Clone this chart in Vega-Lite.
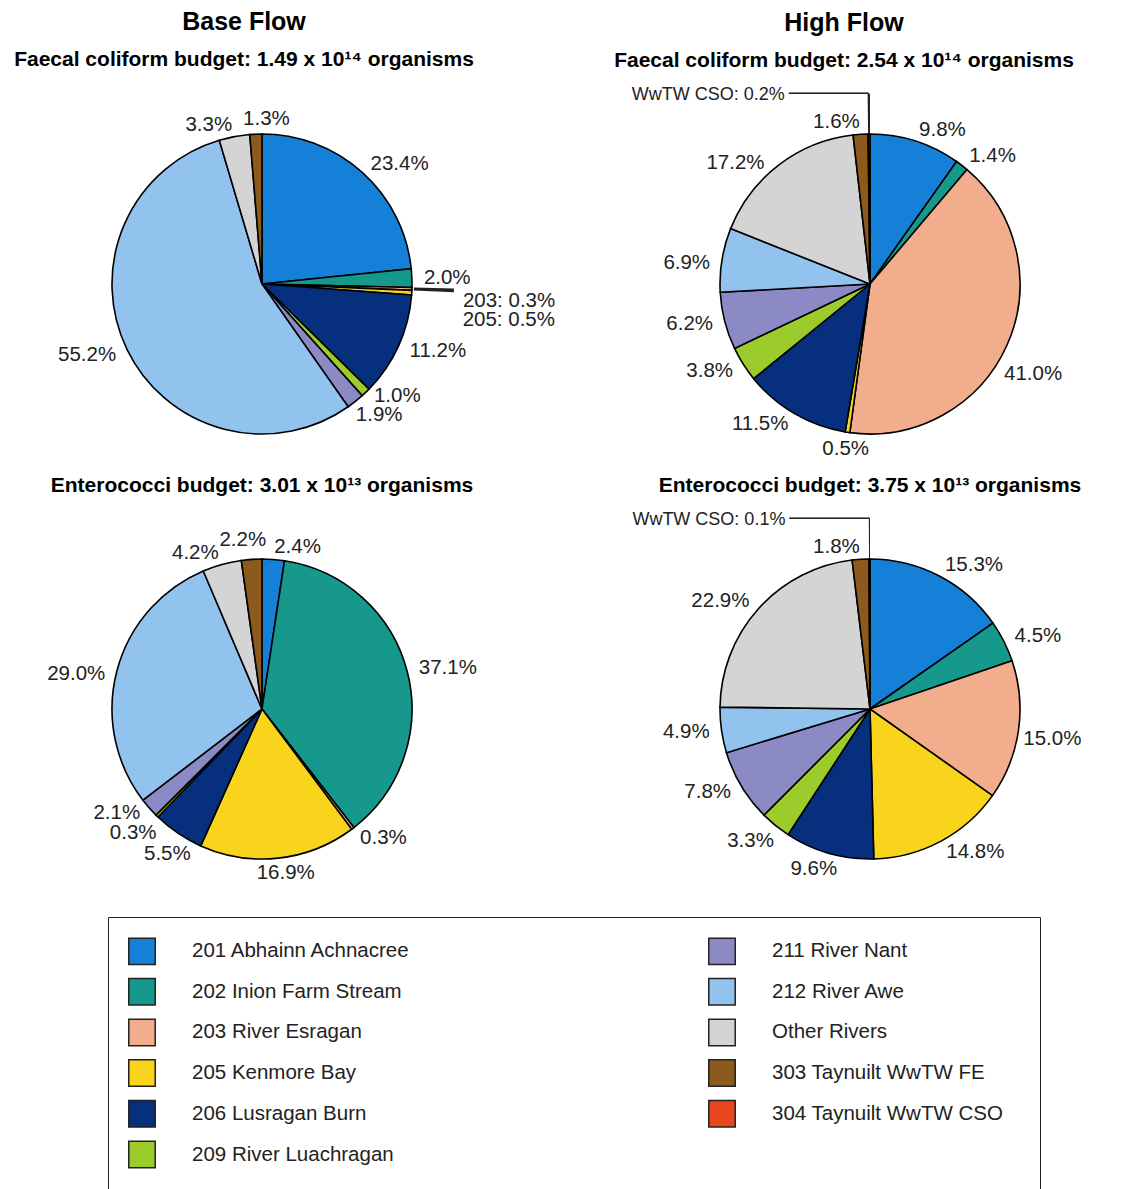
{
  "$schema": "https://vega.github.io/schema/vega-lite/v6.json",
  "autosize": {"type": "pad"},
  "padding": {"left": 0, "top": 10, "right": 0, "bottom": 0},
  "background": "white",
  "config": {
    "font": "Liberation Sans",
    "view": {"stroke": null},
    "title": {"font": "Liberation Sans", "fontWeight": "bold", "color": "black", "fontSize": 25, "subtitleFont": "Liberation Sans", "subtitleFontWeight": "bold", "subtitleColor": "black", "subtitleFontSize": 21, "subtitlePadding": 14, "anchor": "middle", "offset": 25},
    "text": {"font": "Liberation Sans", "fontSize": 20.5, "color": "#222", "baseline": "middle"},
    "legend": {"labelFont": "Liberation Sans"}
  },
  "datasets": {
    "pies": [
      {"panel": "BF_FC", "code": "201", "name": "201 Abhainn Achnacree", "ord": 1, "share": 0.234},
      {"panel": "BF_FC", "code": "202", "name": "202 Inion Farm Stream", "ord": 2, "share": 0.020},
      {"panel": "BF_FC", "code": "203", "name": "203 River Esragan", "ord": 3, "share": 0.003, "note": "203: 0.3%"},
      {"panel": "BF_FC", "code": "205", "name": "205 Kenmore Bay", "ord": 4, "share": 0.005, "note": "205: 0.5%"},
      {"panel": "BF_FC", "code": "206", "name": "206 Lusragan Burn", "ord": 5, "share": 0.112},
      {"panel": "BF_FC", "code": "209", "name": "209 River Luachragan", "ord": 6, "share": 0.010},
      {"panel": "BF_FC", "code": "211", "name": "211 River Nant", "ord": 7, "share": 0.019},
      {"panel": "BF_FC", "code": "212", "name": "212 River Awe", "ord": 8, "share": 0.552},
      {"panel": "BF_FC", "code": "oth", "name": "Other Rivers", "ord": 9, "share": 0.033},
      {"panel": "BF_FC", "code": "303", "name": "303 Taynuilt WwTW FE", "ord": 10, "share": 0.013},

      {"panel": "HF_FC", "code": "201", "name": "201 Abhainn Achnacree", "ord": 1, "share": 0.098},
      {"panel": "HF_FC", "code": "202", "name": "202 Inion Farm Stream", "ord": 2, "share": 0.014},
      {"panel": "HF_FC", "code": "203", "name": "203 River Esragan", "ord": 3, "share": 0.410},
      {"panel": "HF_FC", "code": "205", "name": "205 Kenmore Bay", "ord": 4, "share": 0.005},
      {"panel": "HF_FC", "code": "206", "name": "206 Lusragan Burn", "ord": 5, "share": 0.115},
      {"panel": "HF_FC", "code": "209", "name": "209 River Luachragan", "ord": 6, "share": 0.038},
      {"panel": "HF_FC", "code": "211", "name": "211 River Nant", "ord": 7, "share": 0.062},
      {"panel": "HF_FC", "code": "212", "name": "212 River Awe", "ord": 8, "share": 0.069},
      {"panel": "HF_FC", "code": "oth", "name": "Other Rivers", "ord": 9, "share": 0.172},
      {"panel": "HF_FC", "code": "303", "name": "303 Taynuilt WwTW FE", "ord": 10, "share": 0.016},
      {"panel": "HF_FC", "code": "304", "name": "304 Taynuilt WwTW CSO", "ord": 11, "share": 0.002, "note": "WwTW CSO: 0.2%"},

      {"panel": "BF_E", "code": "201", "name": "201 Abhainn Achnacree", "ord": 1, "share": 0.024},
      {"panel": "BF_E", "code": "202", "name": "202 Inion Farm Stream", "ord": 2, "share": 0.371},
      {"panel": "BF_E", "code": "203", "name": "203 River Esragan", "ord": 3, "share": 0.003},
      {"panel": "BF_E", "code": "205", "name": "205 Kenmore Bay", "ord": 4, "share": 0.169},
      {"panel": "BF_E", "code": "206", "name": "206 Lusragan Burn", "ord": 5, "share": 0.055},
      {"panel": "BF_E", "code": "209", "name": "209 River Luachragan", "ord": 6, "share": 0.003},
      {"panel": "BF_E", "code": "211", "name": "211 River Nant", "ord": 7, "share": 0.021},
      {"panel": "BF_E", "code": "212", "name": "212 River Awe", "ord": 8, "share": 0.290},
      {"panel": "BF_E", "code": "oth", "name": "Other Rivers", "ord": 9, "share": 0.042},
      {"panel": "BF_E", "code": "303", "name": "303 Taynuilt WwTW FE", "ord": 10, "share": 0.022},

      {"panel": "HF_E", "code": "201", "name": "201 Abhainn Achnacree", "ord": 1, "share": 0.153},
      {"panel": "HF_E", "code": "202", "name": "202 Inion Farm Stream", "ord": 2, "share": 0.045},
      {"panel": "HF_E", "code": "203", "name": "203 River Esragan", "ord": 3, "share": 0.150},
      {"panel": "HF_E", "code": "205", "name": "205 Kenmore Bay", "ord": 4, "share": 0.148},
      {"panel": "HF_E", "code": "206", "name": "206 Lusragan Burn", "ord": 5, "share": 0.096},
      {"panel": "HF_E", "code": "209", "name": "209 River Luachragan", "ord": 6, "share": 0.033},
      {"panel": "HF_E", "code": "211", "name": "211 River Nant", "ord": 7, "share": 0.078},
      {"panel": "HF_E", "code": "212", "name": "212 River Awe", "ord": 8, "share": 0.049},
      {"panel": "HF_E", "code": "oth", "name": "Other Rivers", "ord": 9, "share": 0.229},
      {"panel": "HF_E", "code": "303", "name": "303 Taynuilt WwTW FE", "ord": 10, "share": 0.018},
      {"panel": "HF_E", "code": "304", "name": "304 Taynuilt WwTW CSO", "ord": 11, "share": 0.001, "note": "WwTW CSO: 0.1%"}
    ]
  },
  "resolve": {"scale": {"color": "shared"}, "legend": {"color": "shared"}},
  "bounds": "flush",
  "columns": 2,
  "spacing": {"row": 49, "column": 88},
  "concat": [
    {
      "width": 524, "height": 376,
      "title": {"text": "Base Flow", "subtitle": "Faecal coliform budget:  1.49 x 10¹⁴ organisms", "dx": -18, "offset": 14},
      "data": {"name": "pies"},
      "transform": [{"filter": "datum.panel == 'BF_FC'"}],
      "encoding": {
        "theta": {"field": "share", "type": "quantitative", "stack": true},
        "order": {"field": "ord", "type": "quantitative"}
      },
      "layer": [
        {"mark": {"type": "arc", "outerRadius": 150, "stroke": "black", "strokeWidth": 1.6},
         "encoding": {"color": {"field": "name", "type": "nominal",
           "scale": {"domain": ["201 Abhainn Achnacree", "202 Inion Farm Stream", "203 River Esragan", "205 Kenmore Bay", "206 Lusragan Burn", "209 River Luachragan", "211 River Nant", "212 River Awe", "Other Rivers", "303 Taynuilt WwTW FE", "304 Taynuilt WwTW CSO"],
                     "range": ["#1580d8", "#17988c", "#f2ae8c", "#f8d51c", "#06307e", "#9ccb2c", "#8c8ac4", "#92c3ef", "#d4d4d4", "#8b5a1c", "#e8461e"]},
           "legend": {"title": " ", "titleOrient": "right", "titlePadding": 17, "orient": "none", "legendX": 108, "legendY": 821, "columns": 2, "gridAlign": "all", "symbolType": "square", "symbolSize": 700, "symbolStrokeColor": "#222", "symbolStrokeWidth": 1.5, "symbolOpacity": 1, "labelFontSize": 20.5, "labelColor": "#222", "labelOffset": 36, "labelLimit": 400, "rowPadding": 6.7, "columnPadding": 281, "padding": 20, "strokeColor": "#222"}}}},
        {"mark": {"type": "arc", "innerRadius": 152, "outerRadius": 192, "fill": "#222"},
         "encoding": {"fillOpacity": {"condition": {"test": "datum.code == '203'", "value": 1}, "value": 0}}},
        {"mark": {"type": "text", "radius": 162, "align": "left"},
         "encoding": {"text": {"condition": {"test": "indexof(['201','202','206'], datum.code) >= 0", "field": "share", "type": "quantitative", "format": ".1%"}, "value": ""}}},
        {"mark": {"type": "text", "radius": 162, "align": "left", "dy": -5},
         "encoding": {"text": {"condition": {"test": "datum.code == '209'", "field": "share", "type": "quantitative", "format": ".1%"}, "value": ""}}},
        {"mark": {"type": "text", "radius": 162, "align": "left", "dx": -7, "dy": 4},
         "encoding": {"text": {"condition": {"test": "datum.code == '211'", "field": "share", "type": "quantitative", "format": ".1%"}, "value": ""}}},
        {"mark": {"type": "text", "radius": 162, "align": "right"},
         "encoding": {"text": {"condition": {"test": "indexof(['212','oth'], datum.code) >= 0", "field": "share", "type": "quantitative", "format": ".1%"}, "value": ""}}},
        {"mark": {"type": "text", "radius": 162, "align": "center", "dx": 11, "dy": -3},
         "encoding": {"text": {"condition": {"test": "datum.code == '303'", "field": "share", "type": "quantitative", "format": ".1%"}, "value": ""}}},
        {"mark": {"type": "text", "radius": 200, "align": "left", "dx": 1, "dy": 10},
         "encoding": {"text": {"condition": {"test": "datum.code == '203'", "field": "note"}, "value": ""}}},
        {"mark": {"type": "text", "radius": 200, "align": "left", "dx": 1, "dy": 24},
         "encoding": {"text": {"condition": {"test": "datum.code == '205'", "field": "note"}, "value": ""}}}
      ]
    },
    {
      "width": 516, "height": 376,
      "title": {"text": "High Flow", "subtitle": "Faecal coliform budget:  2.54 x 10¹⁴ organisms", "dx": -26, "offset": 14},
      "data": {"name": "pies"},
      "transform": [{"filter": "datum.panel == 'HF_FC'"}],
      "encoding": {
        "theta": {"field": "share", "type": "quantitative", "stack": true},
        "order": {"field": "ord", "type": "quantitative"}
      },
      "layer": [
        {"mark": {"type": "arc", "outerRadius": 150, "stroke": "black", "strokeWidth": 1.6},
         "encoding": {"color": {"field": "name", "type": "nominal",
           "scale": {"domain": ["201 Abhainn Achnacree", "202 Inion Farm Stream", "203 River Esragan", "205 Kenmore Bay", "206 Lusragan Burn", "209 River Luachragan", "211 River Nant", "212 River Awe", "Other Rivers", "303 Taynuilt WwTW FE", "304 Taynuilt WwTW CSO"],
                     "range": ["#1580d8", "#17988c", "#f2ae8c", "#f8d51c", "#06307e", "#9ccb2c", "#8c8ac4", "#92c3ef", "#d4d4d4", "#8b5a1c", "#e8461e"]},
           "legend": {"title": " ", "titleOrient": "right", "titlePadding": 17, "orient": "none", "legendX": 108, "legendY": 821, "columns": 2, "gridAlign": "all", "symbolType": "square", "symbolSize": 700, "symbolStrokeColor": "#222", "symbolStrokeWidth": 1.5, "symbolOpacity": 1, "labelFontSize": 20.5, "labelColor": "#222", "labelOffset": 36, "labelLimit": 400, "rowPadding": 6.7, "columnPadding": 281, "padding": 20, "strokeColor": "#222"}}}},
        {"mark": {"type": "arc", "innerRadius": 151, "outerRadius": 190, "fill": "#222"},
         "encoding": {"fillOpacity": {"condition": {"test": "datum.code == '304'", "value": 1}, "value": 0}}},
        {"mark": {"type": "text", "radius": 190, "align": "right", "font": "DejaVu Sans", "fontSize": 19},
         "encoding": {"text": {"condition": {"test": "datum.code == '304'", "value": "───────"}, "value": ""}}},
        {"mark": {"type": "text", "radius": 190, "align": "right", "dx": -84, "dy": 1, "fontSize": 18},
         "encoding": {"text": {"condition": {"test": "datum.code == '304'", "field": "note"}, "value": ""}}},
        {"mark": {"type": "text", "radius": 162, "align": "left"},
         "encoding": {"text": {"condition": {"test": "indexof(['201','202'], datum.code) >= 0", "field": "share", "type": "quantitative", "format": ".1%"}, "value": ""}}},
        {"mark": {"type": "text", "radius": 162, "align": "right"},
         "encoding": {"text": {"condition": {"test": "indexof(['206','209','211','303'], datum.code) >= 0", "field": "share", "type": "quantitative", "format": ".1%"}, "value": ""}}},
        {"mark": {"type": "text", "radius": 162, "align": "right", "dy": 5},
         "encoding": {"text": {"condition": {"test": "datum.code == '212'", "field": "share", "type": "quantitative", "format": ".1%"}, "value": ""}}},
        {"mark": {"type": "text", "radius": 162, "align": "center", "dy": 5},
         "encoding": {"text": {"condition": {"test": "datum.code == '205'", "field": "share", "type": "quantitative", "format": ".1%"}, "value": ""}}},
        {"mark": {"type": "text", "radius": 162, "align": "left", "dx": -14, "dy": 24},
         "encoding": {"text": {"condition": {"test": "datum.code == '203'", "field": "share", "type": "quantitative", "format": ".1%"}, "value": ""}}},
        {"mark": {"type": "text", "radius": 162, "align": "right", "dx": -7, "dy": 8},
         "encoding": {"text": {"condition": {"test": "datum.code == 'oth'", "field": "share", "type": "quantitative", "format": ".1%"}, "value": ""}}}
      ]
    },
    {
      "width": 524, "height": 376,
      "title": {"text": "Enterococci budget:  3.01 x 10¹³ organisms", "fontSize": 21},
      "data": {"name": "pies"},
      "transform": [{"filter": "datum.panel == 'BF_E'"}],
      "encoding": {
        "theta": {"field": "share", "type": "quantitative", "stack": true},
        "order": {"field": "ord", "type": "quantitative"}
      },
      "layer": [
        {"mark": {"type": "arc", "outerRadius": 150, "stroke": "black", "strokeWidth": 1.6},
         "encoding": {"color": {"field": "name", "type": "nominal",
           "scale": {"domain": ["201 Abhainn Achnacree", "202 Inion Farm Stream", "203 River Esragan", "205 Kenmore Bay", "206 Lusragan Burn", "209 River Luachragan", "211 River Nant", "212 River Awe", "Other Rivers", "303 Taynuilt WwTW FE", "304 Taynuilt WwTW CSO"],
                     "range": ["#1580d8", "#17988c", "#f2ae8c", "#f8d51c", "#06307e", "#9ccb2c", "#8c8ac4", "#92c3ef", "#d4d4d4", "#8b5a1c", "#e8461e"]},
           "legend": {"title": " ", "titleOrient": "right", "titlePadding": 17, "orient": "none", "legendX": 108, "legendY": 821, "columns": 2, "gridAlign": "all", "symbolType": "square", "symbolSize": 700, "symbolStrokeColor": "#222", "symbolStrokeWidth": 1.5, "symbolOpacity": 1, "labelFontSize": 20.5, "labelColor": "#222", "labelOffset": 36, "labelLimit": 400, "rowPadding": 6.7, "columnPadding": 281, "padding": 20, "strokeColor": "#222"}}}},
        {"mark": {"type": "text", "radius": 162, "align": "left"},
         "encoding": {"text": {"condition": {"test": "indexof(['201','202','203'], datum.code) >= 0", "field": "share", "type": "quantitative", "format": ".1%"}, "value": ""}}},
        {"mark": {"type": "text", "radius": 162, "align": "right"},
         "encoding": {"text": {"condition": {"test": "datum.code == 'oth'", "field": "share", "type": "quantitative", "format": ".1%"}, "value": ""}}},
        {"mark": {"type": "text", "radius": 162, "align": "right", "dy": -3},
         "encoding": {"text": {"condition": {"test": "datum.code == '211'", "field": "share", "type": "quantitative", "format": ".1%"}, "value": ""}}},
        {"mark": {"type": "text", "radius": 162, "align": "right", "dy": 6},
         "encoding": {"text": {"condition": {"test": "datum.code == '212'", "field": "share", "type": "quantitative", "format": ".1%"}, "value": ""}}},
        {"mark": {"type": "text", "radius": 162, "align": "center", "dx": 6, "dy": 3},
         "encoding": {"text": {"condition": {"test": "datum.code == '205'", "field": "share", "type": "quantitative", "format": ".1%"}, "value": ""}}},
        {"mark": {"type": "text", "radius": 162, "align": "center", "dx": -4, "dy": 11},
         "encoding": {"text": {"condition": {"test": "datum.code == '206'", "field": "share", "type": "quantitative", "format": ".1%"}, "value": ""}}},
        {"mark": {"type": "text", "radius": 162, "align": "right", "dx": 8, "dy": 8},
         "encoding": {"text": {"condition": {"test": "datum.code == '209'", "field": "share", "type": "quantitative", "format": ".1%"}, "value": ""}}},
        {"mark": {"type": "text", "radius": 162, "align": "center", "dx": -8, "dy": -7},
         "encoding": {"text": {"condition": {"test": "datum.code == '303'", "field": "share", "type": "quantitative", "format": ".1%"}, "value": ""}}}
      ]
    },
    {
      "width": 516, "height": 376,
      "title": {"text": "Enterococci budget:  3.75 x 10¹³ organisms", "fontSize": 21, "offset": 14},
      "data": {"name": "pies"},
      "transform": [{"filter": "datum.panel == 'HF_E'"}],
      "encoding": {
        "theta": {"field": "share", "type": "quantitative", "stack": true},
        "order": {"field": "ord", "type": "quantitative"}
      },
      "layer": [
        {"mark": {"type": "arc", "outerRadius": 150, "stroke": "black", "strokeWidth": 1.6},
         "encoding": {"color": {"field": "name", "type": "nominal",
           "scale": {"domain": ["201 Abhainn Achnacree", "202 Inion Farm Stream", "203 River Esragan", "205 Kenmore Bay", "206 Lusragan Burn", "209 River Luachragan", "211 River Nant", "212 River Awe", "Other Rivers", "303 Taynuilt WwTW FE", "304 Taynuilt WwTW CSO"],
                     "range": ["#1580d8", "#17988c", "#f2ae8c", "#f8d51c", "#06307e", "#9ccb2c", "#8c8ac4", "#92c3ef", "#d4d4d4", "#8b5a1c", "#e8461e"]},
           "legend": {"title": " ", "titleOrient": "right", "titlePadding": 17, "orient": "none", "legendX": 108, "legendY": 821, "columns": 2, "gridAlign": "all", "symbolType": "square", "symbolSize": 700, "symbolStrokeColor": "#222", "symbolStrokeWidth": 1.5, "symbolOpacity": 1, "labelFontSize": 20.5, "labelColor": "#222", "labelOffset": 36, "labelLimit": 400, "rowPadding": 6.7, "columnPadding": 281, "padding": 20, "strokeColor": "#222"}}}},
        {"mark": {"type": "arc", "innerRadius": 151, "outerRadius": 190, "fill": "#222"},
         "encoding": {"fillOpacity": {"condition": {"test": "datum.code == '304'", "value": 1}, "value": 0}}},
        {"mark": {"type": "text", "radius": 190, "align": "right", "font": "DejaVu Sans", "fontSize": 19},
         "encoding": {"text": {"condition": {"test": "datum.code == '304'", "value": "───────"}, "value": ""}}},
        {"mark": {"type": "text", "radius": 190, "align": "right", "dx": -84, "dy": 1, "fontSize": 18},
         "encoding": {"text": {"condition": {"test": "datum.code == '304'", "field": "note"}, "value": ""}}},
        {"mark": {"type": "text", "radius": 162, "align": "left"},
         "encoding": {"text": {"condition": {"test": "indexof(['201','202','205'], datum.code) >= 0", "field": "share", "type": "quantitative", "format": ".1%"}, "value": ""}}},
        {"mark": {"type": "text", "radius": 162, "align": "left", "dx": -7, "dy": 7},
         "encoding": {"text": {"condition": {"test": "datum.code == '203'", "field": "share", "type": "quantitative", "format": ".1%"}, "value": ""}}},
        {"mark": {"type": "text", "radius": 162, "align": "right"},
         "encoding": {"text": {"condition": {"test": "indexof(['211','212','oth','303'], datum.code) >= 0", "field": "share", "type": "quantitative", "format": ".1%"}, "value": ""}}},
        {"mark": {"type": "text", "radius": 162, "align": "center", "dx": -12, "dy": 4},
         "encoding": {"text": {"condition": {"test": "datum.code == '206'", "field": "share", "type": "quantitative", "format": ".1%"}, "value": ""}}},
        {"mark": {"type": "text", "radius": 162, "align": "right", "dx": 6, "dy": 6},
         "encoding": {"text": {"condition": {"test": "datum.code == '209'", "field": "share", "type": "quantitative", "format": ".1%"}, "value": ""}}}
      ]
    }
  ]
}
